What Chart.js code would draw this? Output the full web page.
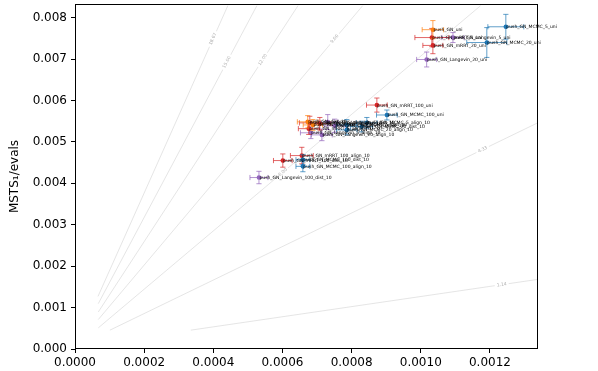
<!DOCTYPE html>
<html><head><meta charset="utf-8">
<script src="https://cdn.jsdelivr.net/npm/chart.js@4.4.1/dist/chart.umd.min.js"></script>
<style>html,body{margin:0;padding:0;background:#fff;}#wrap{width:598px;height:371px;}</style>
</head><body><div id="wrap"><canvas id="c" width="598" height="371"></canvas></div>
<script>
// ---- data ----
const pointNames = [
  'push_GN_MCMC_5_uni','push_GN_MCMC_20_uni','push_GN_uni','push_GN_mRRT_5_uni','push_GN_Langevin_5_uni',
  'push_GN_mRRT_20_uni','push_GN_Langevin_20_uni','push_GN_mRRT_100_uni','push_GN_MCMC_100_uni',
  'push_GN_dist_10','push_GN_align_10','push_GN_mRRT_5_dist_10','push_GN_mRRT_20_dist_10',
  'push_GN_Langevin_5_dist_10','push_GN_Langevin_20_dist_10','push_GN_MCMC_5_dist_10','push_GN_MCMC_20_dist_10',
  'push_GN_MCMC_5_align_10','push_GN_Langevin_5_align_10','push_GN_Langevin_20_align_10','push_GN_MCMC_20_align_10',
  'push_GN_mRRT_5_align_10','push_GN_mRRT_100_align_10','push_GN_mRRT_100_dist_10','push_GN_MCMC_100_dist_10',
  'push_GN_MCMC_100_align_10','push_GN_Langevin_100_dist_10'
];
const pointGroups = [
  'MCMC','MCMC','GN','mRRT','Langevin',
  'mRRT','Langevin','mRRT','MCMC',
  'GN','GN','mRRT','mRRT',
  'Langevin','Langevin','MCMC','MCMC',
  'MCMC','Langevin','Langevin','MCMC',
  'mRRT','mRRT','mRRT','MCMC',
  'MCMC','Langevin'
];
const pointX = [
  0.001246,0.001191,0.001035,0.001032,0.001093,
  0.001035,0.001017,0.000873,0.000902,
  0.000673,0.000688,0.000679,0.000708,
  0.000731,0.000751,0.000786,0.000829,
  0.000844,0.000682,0.000714,0.000786,
  0.000676,0.000656,0.000601,0.000659,
  0.000659,0.000532
];
const pointY = [
  0.00778,0.00740,0.00771,0.00752,0.00752,
  0.00733,0.00699,0.00589,0.00565,
  0.005485,0.00541,0.00546,0.00544,
  0.00548,0.00539,0.00541,0.00537,
  0.00546,0.00522,0.00517,0.00529,
  0.00532,0.00467,0.00455,0.00457,
  0.00441,0.00414
];
const pointXErr = [
  0.000052,0.000058,0.000031,0.000049,0.000032,
  0.000029,0.000029,0.000030,0.000030,
  0.000030,0.000028,0.000030,0.000032,
  0.000030,0.000030,0.000030,0.000032,
  0.000030,0.000030,0.000030,0.000030,
  0.000030,0.000033,0.000027,0.000020,
  0.000020,0.000026
];
const pointYErr = [
  0.00030,0.00036,0.00022,0.00022,0.00012,
  0.00020,0.00018,0.00017,0.00012,
  0.00015,0.00013,0.00016,0.00015,
  0.00018,0.00016,0.00013,0.00013,
  0.00013,0.00014,0.00014,0.00012,
  0.00014,0.00020,0.00016,0.00012,
  0.00013,0.00015
];
const groupNames = ['MCMC','GN','mRRT','Langevin'];

const contourLevels = ['18.67','15.00','12.00','9.00','6.00','4.33','1.14'];
const contourStartX = [0.0000665,0.0000673,0.0000673,0.0000673,0.0000673,0.000101,0.000335];
const contourStartY = [0.00127,0.001095,0.000893,0.000711,0.000510,0.000455,0.000455];
const contourEndX   = [0.000442,0.000526,0.000645,0.000832,0.001173,0.001338,0.001338];
const contourEndY   = [0.00829,0.00829,0.00829,0.00829,0.00829,0.00546,0.00168];
const contourLabelX = [0.000399,0.000439,0.000543,0.000751,0.000601,0.001179,0.001234];

const xTicks = [0,0.0002,0.0004,0.0006,0.0008,0.0010,0.0012];
const yTicks = [0,0.001,0.002,0.003,0.004,0.005,0.006,0.007,0.008];
const xMax = 0.001339, yMax = 0.00833;

// ---- styles ----
const COLORS = {MCMC:'#1f77b4', GN:'#ff7f0e', mRRT:'#d62728', Langevin:'#9467bd'};
function rgba(hex,a){const n=parseInt(hex.slice(1),16);return `rgba(${n>>16},${(n>>8)&255},${n&255},${a})`;}

const datasets = [];
groupNames.forEach(g=>{
  const data=[];
  pointNames.forEach((n,i)=>{ if(pointGroups[i]===g) data.push({x:pointX[i],y:pointY[i],xe:pointXErr[i],ye:pointYErr[i],name:n}); });
  datasets.push({kind:'pts',label:g,data,backgroundColor:COLORS[g],borderWidth:0,pointRadius:2.3,errColor:rgba(COLORS[g],0.7),order:0});
});
contourLevels.forEach((lv,i)=>{
  datasets.push({kind:'contour',label:lv,labelX:contourLabelX[i],
    data:[{x:contourStartX[i],y:contourStartY[i]},{x:contourEndX[i],y:contourEndY[i]}],
    showLine:true,borderColor:'#dedede',borderWidth:0.8,pointRadius:0,order:10});
});

const plugin = {
  id:'custom',
  beforeDatasetDraw(chart,args){
    const ds=chart.data.datasets[args.index];
    if(ds.kind!=='pts') return;
    const xs=chart.scales.x, ys=chart.scales.y, ctx=chart.ctx;
    ctx.save(); ctx.strokeStyle=ds.errColor; ctx.lineWidth=1;
    ds.data.forEach(p=>{
      const cx=xs.getPixelForValue(p.x), cy=ys.getPixelForValue(p.y);
      const x0=xs.getPixelForValue(p.x-p.xe), x1=xs.getPixelForValue(p.x+p.xe);
      const y0=ys.getPixelForValue(p.y-p.ye), y1=ys.getPixelForValue(p.y+p.ye);
      const c=2.6;
      ctx.beginPath();
      ctx.moveTo(x0,cy);ctx.lineTo(x1,cy);
      ctx.moveTo(cx,y0);ctx.lineTo(cx,y1);
      ctx.moveTo(x0,cy-c);ctx.lineTo(x0,cy+c);
      ctx.moveTo(x1,cy-c);ctx.lineTo(x1,cy+c);
      ctx.moveTo(cx-c,y0);ctx.lineTo(cx+c,y0);
      ctx.moveTo(cx-c,y1);ctx.lineTo(cx+c,y1);
      ctx.stroke();
    });
    ctx.restore();
  },
  afterDatasetDraw(chart,args){
    const ds=chart.data.datasets[args.index];
    if(ds.kind!=='contour') return;
    const xs=chart.scales.x, ys=chart.scales.y, ctx=chart.ctx;
    const a={x:xs.getPixelForValue(ds.data[0].x),y:ys.getPixelForValue(ds.data[0].y)};
    const b={x:xs.getPixelForValue(ds.data[1].x),y:ys.getPixelForValue(ds.data[1].y)};
    const px=xs.getPixelForValue(ds.labelX);
    const t=(px-a.x)/(b.x-a.x);
    const py=a.y+t*(b.y-a.y);
    const ang=Math.atan2(b.y-a.y,b.x-a.x);
    ctx.save();
    ctx.translate(px,py); ctx.rotate(ang);
    ctx.font='4.5px "DejaVu Sans"';
    const w=ctx.measureText(ds.label).width;
    ctx.fillStyle='#ffffff'; ctx.fillRect(-w/2-2,-2.5,w+4,5);
    ctx.fillStyle='#b0b0b0'; ctx.textAlign='center'; ctx.textBaseline='middle';
    ctx.fillText(ds.label,0,0);
    ctx.restore();
  },
  afterDatasetsDraw(chart){
    const ctx=chart.ctx, ca=chart.chartArea, xs=chart.scales.x, ys=chart.scales.y;
    ctx.save();
    ctx.strokeStyle='#000'; ctx.lineWidth=1;
    ctx.strokeRect(Math.round(ca.left)+0.5,Math.round(ca.top)+0.5,Math.round(ca.right-ca.left)-1,Math.round(ca.bottom-ca.top)-1);
    ctx.fillStyle='#000'; ctx.font='4.5px "DejaVu Sans"'; ctx.textAlign='left'; ctx.textBaseline='alphabetic';
    chart.data.datasets.forEach(ds=>{
      if(ds.kind!=='pts') return;
      ds.data.forEach(p=>{
        ctx.fillText(p.name,xs.getPixelForValue(p.x)+0.5,ys.getPixelForValue(p.y)+1.5);
      });
    });
    ctx.restore();
  }
};

new Chart(document.getElementById('c'),{
  type:'scatter',
  data:{datasets},
  options:{
    responsive:false,animation:false,devicePixelRatio:1,
    layout:{padding:{left:0,right:60,top:3,bottom:0}},
    plugins:{legend:{display:false},tooltip:{enabled:false}},
    scales:{
      x:{type:'linear',min:0,max:xMax,
        afterBuildTicks:s=>{s.ticks=xTicks.map(v=>({value:v}));},
        afterFit:s=>{s.height=22;s.paddingLeft=0;s.paddingRight=0;},
        ticks:{callback:v=>v.toFixed(4),color:'#000',font:{family:'DejaVu Sans',size:12},padding:3,maxRotation:0,autoSkip:false},
        grid:{display:true,drawOnChartArea:false,drawTicks:true,tickLength:4,color:'#000',lineWidth:1},
        border:{display:false}
      },
      y:{type:'linear',min:0,max:yMax,
        afterBuildTicks:s=>{s.ticks=yTicks.map(v=>({value:v}));},
        afterFit:s=>{s.width=75;s.paddingTop=0;s.paddingBottom=0;},
        ticks:{callback:v=>v.toFixed(3),color:'#000',font:{family:'DejaVu Sans',size:12},padding:4,autoSkip:false},
        grid:{display:true,drawOnChartArea:false,drawTicks:true,tickLength:4,color:'#000',lineWidth:1},
        border:{display:false},
        title:{display:true,text:'MSTS\u2081/evals',color:'#000',font:{family:'DejaVu Sans',size:12},padding:{top:8,bottom:0}}
      }
    }
  },
  plugins:[plugin]
});
</script></body></html>
